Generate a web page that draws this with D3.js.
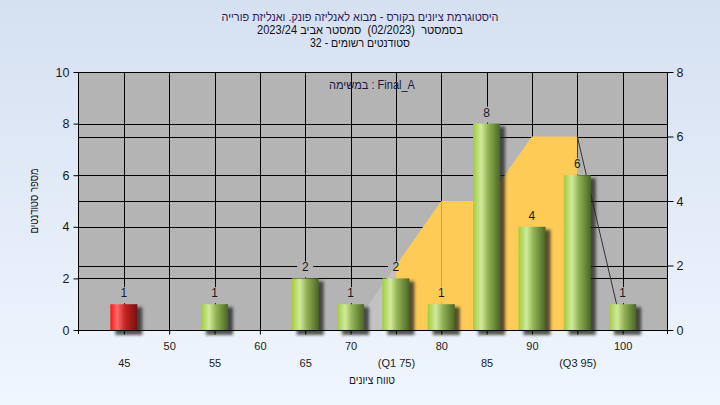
<!DOCTYPE html>
<html><head><meta charset="utf-8">
<script src="https://cdn.jsdelivr.net/npm/d3@7"></script>
<style>body{margin:0;background:#fff;} svg{display:block;} text{font-family:"Liberation Sans",Arial,sans-serif;white-space:pre;}</style>
</head><body>
<svg id="c" width="720" height="405"></svg>
<script>
// ---- data ----
const titleLines = ["היסטוגרמת ציונים בקורס - מבוא לאנליזה פונק. ואנליזת פורייה",
                    "בסמסטר  (02/2023)  סמסטר אביב 2023/24",
                    "סטודנטים רשומים - 32"];
const taskLabel = "במשימה : Final_A";
const yTitle = "מספר סטודנטים";
const xTitle = "טווח ציונים";
const scores = [45,55,65,70,75,80,85,90,95,100];
const counts = [1,1,2,1,2,1,8,4,6,1];
const passMark = 50;
const areaX = [70,75,80,85,90,95,100];
const areaY = [0,2,4,4,6,6,0];
const q1 = 75, q3 = 95;
const leftTicks = [0,2,4,6,8,10];
const rightTicks = [0,2,4,6,8];
const upperTicks = [50,60,70,80,90,100];
const lowerTicks = [45,55,65,75,85,95];
const lowerTickLabels = ["45","55","65","(Q1 75)","85","(Q3 95)"];
const gridX = [45,50,55,60,65,70,75,80,85,90,95,100];

// ---- layout ----
const W=720,H=405, L=78, R=667, T=72, B=330;
const svg=d3.select("#c");
const defs=svg.append("defs");
const bg=defs.append("linearGradient").attr("id","bg").attr("x1",0).attr("y1",0).attr("x2",0).attr("y2",1);
bg.append("stop").attr("offset","0%").attr("stop-color","#d5e0f1");
bg.append("stop").attr("offset","100%").attr("stop-color","#f0f6fe");
function cyl(id, stops){
  const g=defs.append("linearGradient").attr("id",id).attr("x1",0).attr("y1",0).attr("x2",1).attr("y2",0);
  stops.forEach(s=>g.append("stop").attr("offset",s[0]).attr("stop-color",s[1]));
}
cyl("gGreen",[["0%","#a2cc3c"],["30%","#d0ea9c"],["55%","#93b456"],["100%","#4a6622"]]);
cyl("gRed",[["0%","#ff1414"],["25%","#ff6a6a"],["55%","#c22424"],["100%","#761010"]]);
const f=defs.append("filter").attr("id","sh").attr("x","-50%").attr("y","-50%").attr("width","200%").attr("height","200%");
f.append("feGaussianBlur").attr("stdDeviation",1.6);

svg.append("rect").attr("width",W).attr("height",H).attr("fill","url(#bg)");

const x=d3.scaleLinear().domain([40,105]).range([L+0.5,R+1]);
const yL=d3.scaleLinear().domain([0,10]).range([B,T]);
const yR=d3.scaleLinear().domain([0,8]).range([B,T]);

// plot bg
svg.append("rect").attr("x",L).attr("y",T).attr("width",R-L).attr("height",B-T).attr("fill","#b4b4b4");

// gridlines
const grid=svg.append("g").attr("stroke","#000").attr("stroke-width",1);
gridX.forEach(v=>grid.append("line").attr("x1",Math.round(x(v))+0.5).attr("x2",Math.round(x(v))+0.5).attr("y1",T).attr("y2",B));
leftTicks.forEach(v=>grid.append("line").attr("x1",L).attr("x2",R).attr("y1",Math.round(yL(v))+0.5).attr("y2",Math.round(yL(v))+0.5));
rightTicks.forEach(v=>grid.append("line").attr("x1",L).attr("x2",R).attr("y1",Math.round(yR(v))+0.5).attr("y2",Math.round(yR(v))+0.5));

// label background boxes (plot colour)
svg.append("g").selectAll("rect").data(scores).join("rect")
  .attr("x",(d,i)=>x(d)-8).attr("y",(d,i)=>yL(counts[i])-17).attr("width",16).attr("height",16)
  .attr("fill","#b4b4b4");

// area segments
const pts=areaX.map((v,i)=>[v,areaY[i]]);
const areaGen=d3.area().x(d=>x(d[0])).y0(B).y1(d=>yR(d[1]));
for(let i=0;i<pts.length-1;i++){
  const seg=[pts[i],pts[i+1]];
  const a=pts[i][0], b=pts[i+1][0];
  if(a>=q1 && b<=q3){
    svg.append("path").attr("d",areaGen(seg)).attr("fill","#fecb57");
  } else if(b<=q1){
    svg.append("path").attr("d",areaGen(seg)).attr("fill","#c2c2c2");
  } else {
    svg.append("path").attr("d",d3.line().x(d=>x(d[0])).y(d=>yR(d[1]))(seg)).attr("stroke","#333").attr("stroke-width",1).attr("fill","none");
  }
}

// bars
const barW=27;
const bars=svg.append("g");
scores.forEach((s,i)=>{
  const cx=x(s), top=yL(counts[i]);
  bars.append("rect").attr("x",cx-barW/2+5).attr("y",top+3).attr("width",barW).attr("height",B-top+2)
    .attr("fill","#222").attr("opacity",0.75).attr("filter","url(#sh)");
});
scores.forEach((s,i)=>{
  const cx=x(s), top=yL(counts[i]);
  bars.append("rect").attr("x",cx-barW/2).attr("y",top).attr("width",barW).attr("height",B-top)
    .attr("fill", s<passMark?"url(#gRed)":"url(#gGreen)");
});
// value labels
svg.append("g").selectAll("text").data(scores).join("text")
  .attr("x",d=>x(d)).attr("y",(d,i)=>yL(counts[i])-7)
  .attr("text-anchor","middle").attr("font-size",12).attr("fill","#1a1a2a")
  .text((d,i)=>counts[i]);

// task label
svg.append("text").attr("x",372).attr("y",89).attr("text-anchor","middle").attr("font-size",12).attr("fill","#1a1a40")
  .attr("direction","ltr").attr("textLength",86).attr("lengthAdjust","spacingAndGlyphs").text(taskLabel);

// axes
const aL=d3.axisLeft(yL).tickValues(leftTicks).tickSize(5).tickPadding(4).tickSizeOuter(0);
const gL=svg.append("g").attr("transform",`translate(${L+0.5},0)`).call(aL);
const aR=d3.axisRight(yR).tickValues(rightTicks).tickSize(6).tickPadding(3).tickSizeOuter(0);
const gR=svg.append("g").attr("transform",`translate(${R+0.5},0)`).call(aR);
const aB1=d3.axisBottom(x).tickValues(upperTicks).tickSize(4).tickPadding(8).tickSizeOuter(0);
const gB1=svg.append("g").attr("transform",`translate(0,${B+0.5})`).call(aB1);
const aB2=d3.axisBottom(x).tickValues(lowerTicks).tickSize(4).tickPadding(25).tickSizeOuter(0).tickFormat((d,i)=>lowerTickLabels[i]);
const gB2=svg.append("g").attr("transform",`translate(0,${B+0.5})`).call(aB2);
[gL,gR,gB1,gB2].forEach(g=>{
  g.select(".domain").remove();
  g.selectAll("line").attr("stroke","#000");
  g.selectAll("text").attr("fill","#1a1a1a").attr("font-family","'Liberation Sans',Arial,sans-serif");
});
gL.selectAll("text").attr("font-size",12.5);
gR.selectAll("text").attr("font-size",12.5);
gB1.selectAll("text").attr("font-size",11);
gB2.selectAll("text").attr("font-size",11);
// axis lines
svg.append("line").attr("x1",L+0.5).attr("x2",L+0.5).attr("y1",T).attr("y2",B+4).attr("stroke","#000");
svg.append("line").attr("x1",R+0.5).attr("x2",R+0.5).attr("y1",T).attr("y2",B+4).attr("stroke","#000");
svg.append("line").attr("x1",L).attr("x2",R+1).attr("y1",B+0.5).attr("y2",B+0.5).attr("stroke","#000");

// titles
const titleWidths=[277,206,100];
titleLines.forEach((t,i)=>{
  svg.append("text").attr("x",360).attr("y",21+i*13).attr("text-anchor","middle").attr("font-size",12)
    .attr("fill", i===0?"#321a5a":"#111").attr("direction","rtl")
    .attr("textLength",titleWidths[i]).attr("lengthAdjust","spacingAndGlyphs").text(t);
});
svg.append("text").attr("transform","translate(38,201) rotate(-90)").attr("text-anchor","middle")
  .attr("font-size",12).attr("fill","#1a1a1a").attr("direction","rtl")
  .attr("textLength",65).attr("lengthAdjust","spacingAndGlyphs").text(yTitle);
svg.append("text").attr("x",372).attr("y",384).attr("text-anchor","middle")
  .attr("font-size",12).attr("fill","#1a1a1a").attr("direction","rtl")
  .attr("textLength",46).attr("lengthAdjust","spacingAndGlyphs").text(xTitle);
</script>
</body></html>
